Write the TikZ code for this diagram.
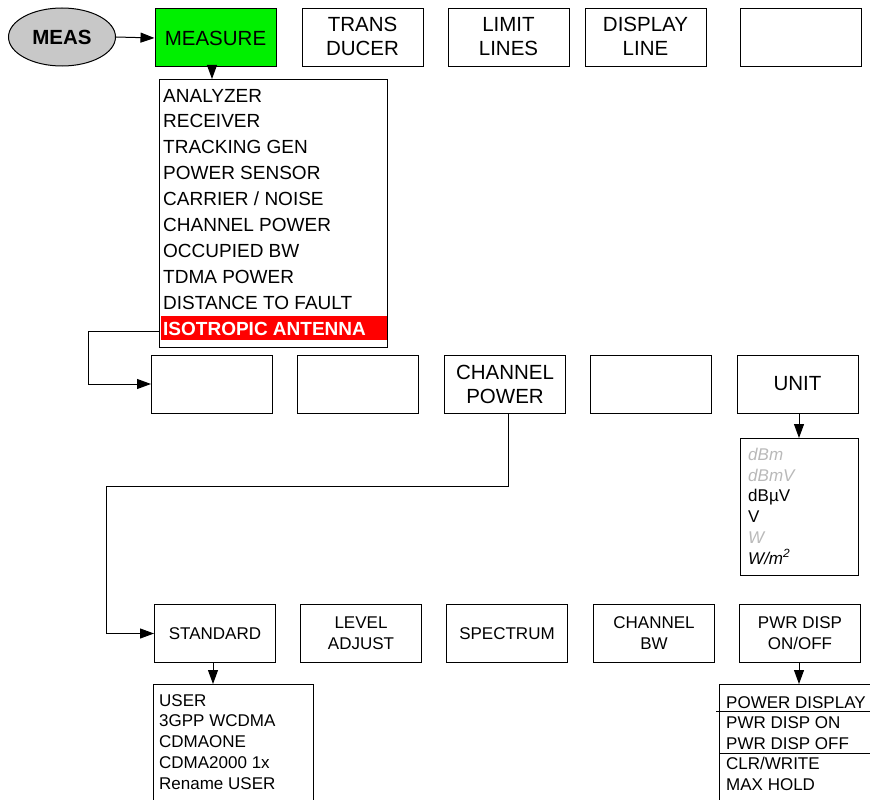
\documentclass[tikz,border=0pt]{standalone}
\usepackage{fontspec}
\setmainfont{Liberation Sans}
\usetikzlibrary{arrows.meta,shapes.geometric}
\definecolor{measgreen}{RGB}{0,240,0}
\definecolor{measgrey}{RGB}{200,200,200}
\definecolor{hlred}{RGB}{255,0,0}
\definecolor{dimtext}{RGB}{185,185,185}
\tikzset{
  conn/.style={line width=1pt,-{Triangle[length=14pt,width=10pt]}},
  plainline/.style={line width=1pt},
  keybox/.style={draw,line width=1pt,minimum width=121pt,minimum height=58pt,inner sep=0pt,align=center,font=\fontsize{20.5}{24}\selectfont},
  smallkey/.style={keybox,font=\fontsize{17}{21}\selectfont},
  listbox/.style={draw,line width=1pt,anchor=north west,inner sep=0pt},
  bigitem/.style={anchor=base west,inner sep=0pt,font=\fontsize{19}{23}\selectfont},
  smallitem/.style={anchor=base west,inner sep=0pt,font=\fontsize{17}{21}\selectfont},
}
\begin{document}
\begin{tikzpicture}[x=1pt,y=-1pt]
\useasboundingbox (0,0) rectangle (870,800);

% MEAS ellipse
\node[ellipse,draw,line width=1pt,fill=measgrey,minimum width=107pt,minimum height=58pt,inner sep=0pt,font=\fontsize{20.5}{24}\selectfont\bfseries] (meas) at (62,37) {MEAS};

% top row
\node[keybox,fill=measgreen] (measure) at (215.5,38) {MEASURE};
\node[keybox] (trans) at (362.5,38) {TRANS\\DUCER\vspace{3pt}};
\node[keybox] (limit) at (508.5,38) {LIMIT\\LINES\vspace{3pt}};
\node[keybox] (disp) at (645.5,38) {DISPLAY\\LINE\vspace{3pt}};
\node[keybox] (top5) at (801,38) {};

% measure list
\node[listbox,minimum width=228pt,minimum height=268pt] (mlist) at (159,79) {};
\fill[hlred] (160.5,316) rectangle (386.5,340);
\foreach \t [count=\i from 0] in {ANALYZER,RECEIVER,TRACKING GEN,POWER SENSOR,CARRIER / NOISE,CHANNEL POWER,OCCUPIED BW,TDMA POWER,DISTANCE TO FAULT}
  \node[bigitem] (mi\i) at (163,{102+25.9*\i}) {\t};
\node[bigitem,text=white,font=\fontsize{19}{23}\selectfont\bfseries] (iso) at (163,335) {ISOTROPIC ANTENNA};

% second row
\node[keybox] (r1) at (212,384) {};
\node[keybox] (r2) at (358,384) {};
\node[keybox] (chpow) at (505,384) {CHANNEL\\POWER};
\node[keybox] (r4) at (651,384) {};
\node[keybox] (unit) at (797.5,384) {UNIT};

% unit list
\node[listbox,minimum width=118pt,minimum height=137pt] (ulist) at (740,438) {};
\node[smallitem,text=dimtext,font=\fontsize{17}{21}\selectfont\itshape] (u1) at (748,460) {dBm};
\node[smallitem,text=dimtext,font=\fontsize{17}{21}\selectfont\itshape] (u2) at (748,481) {dBmV};
\node[smallitem] (u3) at (748,501) {dB\textmu V};
\node[smallitem] (u4) at (748,522) {V};
\node[smallitem,text=dimtext,font=\fontsize{17}{21}\selectfont\itshape] (u5) at (748,543) {W};
\node[smallitem,font=\fontsize{17}{21}\selectfont\itshape] (u6) at (748,564) {W/m\textsuperscript{2}};

% third row
\node[smallkey] (std) at (215,633.5) {STANDARD};
\node[smallkey] (lvl) at (361,633.5) {LEVEL\\ADJUST};
\node[smallkey] (spec) at (507,633.5) {SPECTRUM};
\node[smallkey] (chbw) at (654,633.5) {CHANNEL\\BW};
\node[smallkey] (pwr) at (800,633.5) {PWR DISP\\ON/OFF};

% standard list
\node[listbox,minimum width=160pt,minimum height=130pt] (slist) at (153,684) {};
\foreach \t [count=\i from 0] in {USER,3GPP WCDMA,CDMAONE,CDMA2000 1x,Rename USER}
  \node[smallitem] (si\i) at (159,{706+20.8*\i}) {\t};

% power display list
\node[listbox,minimum width=170pt,minimum height=130pt] (plist) at (719,684) {};
\foreach \t [count=\i from 0] in {POWER DISPLAY,PWR DISP ON,PWR DISP OFF,CLR/WRITE,MAX HOLD}
  \node[smallitem] (pi\i) at (726,{708+20.6*\i}) {\t};
\coordinate (pl1a) at (716,711.5);
\coordinate (pl1b) at (872,711.5);
\coordinate (pl2a) at (719,753);
\coordinate (pl2b) at (872,753);
\draw[plainline] (pl1a) -- (pl1b);
\draw[plainline] (pl2a) -- (pl2b);

% connectors
\draw[conn] (meas.east) -- (measure.west);
\draw[conn] ([xshift=-3.5pt]measure.south) -- ([xshift=-3.5pt]measure.south |- mlist.north);
\coordinate (c1) at (88,331);
\draw[conn] (c1 -| mlist.west) -- (c1) |- (r1.west);
\coordinate (c2) at (106,486);
\draw[conn] ([xshift=3pt]chpow.south) |- (c2) |- (std.west);
\draw[conn] ([xshift=1.5pt]unit.south) -- ([xshift=1.5pt]unit.south |- ulist.north);
\draw[conn] ([xshift=-2pt]std.south) -- ([xshift=-2pt]std.south |- slist.north);
\draw[conn] ([xshift=-1pt]pwr.south) -- ([xshift=-1pt]pwr.south |- plist.north);
\end{tikzpicture}
\end{document}
